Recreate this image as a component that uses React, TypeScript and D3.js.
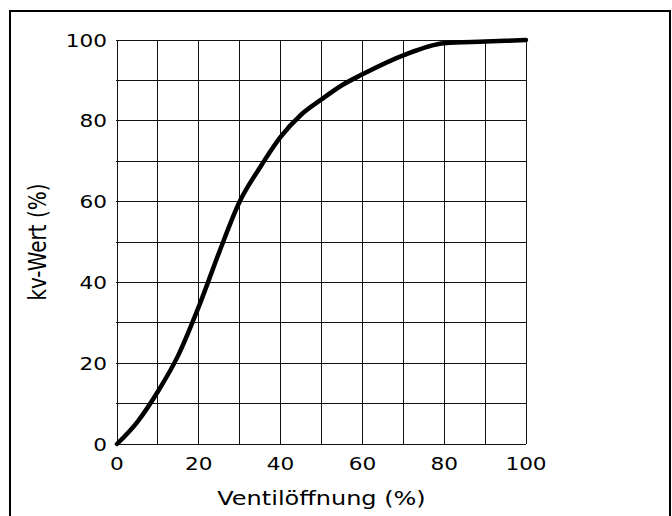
import React from 'react';
import * as d3 from 'd3';

// Valve characteristic: opening (%) vs kv value (%)
const opening = [0, 5, 10, 15, 20, 25, 30, 35, 40, 45, 50, 55, 60, 70, 80, 90, 100];
const kvValue = [0, 5.5, 13, 22, 34, 47.5, 60, 68.5, 76, 81.5, 85.3, 88.8, 91.5, 96.2, 99.2, 99.6, 100];

const gridTicks = [0, 10, 20, 30, 40, 50, 60, 70, 80, 90, 100];
const labelTicks = [0, 20, 40, 60, 80, 100];

const xTitle = 'Ventilöffnung (%)';
const yTitle = 'kv-Wert (%)';

const W = 672;
const H = 516;
const FONT = '"DejaVu Sans", Verdana, sans-serif';
const STRETCH = 1.2; // reference glyphs are wider than DejaVu

export default function App() {
  const x = d3.scaleLinear().domain([0, 100]).range([117, 526]);
  const y = d3.scaleLinear().domain([0, 100]).range([444, 40]);

  const pts = opening.map((o, i) => [o, kvValue[i]] as [number, number]);
  const line = d3.line<[number, number]>()
    .x(d => x(d[0]))
    .y(d => y(d[1]))
    .curve(d3.curveMonotoneX);

  return (
    <svg width={W} height={H} style={{ position: 'absolute', left: 0, top: 0, background: '#fff' }}
      fontFamily={FONT}>
      <rect x={10} y={11} width={660} height={530} fill="#fff" stroke="#000" strokeWidth={2} />

      {/* grid */}
      <g stroke="#111" strokeWidth={1} shapeRendering="crispEdges">
        {gridTicks.map(t => (
          <line key={'v' + t} x1={x(t)} x2={x(t)} y1={y(0)} y2={y(100)} />
        ))}
        {gridTicks.map(t => (
          <line key={'h' + t} x1={x(0) - 1} x2={x(100)} y1={y(t)} y2={y(t)} />
        ))}
      </g>

      {/* curve */}
      <path d={line(pts) || ''} fill="none" stroke="#000" strokeWidth={4.5}
        strokeLinecap="round" strokeLinejoin="round" />

      {/* y tick labels */}
      {labelTicks.map(t => (
        <text key={'yl' + t} transform={`translate(${x(0) - 10},${y(t) + 6.5}) scale(${STRETCH},1)`}
          textAnchor="end" fontSize={18} fill="#000">{t}</text>
      ))}

      {/* x tick labels */}
      {labelTicks.map(t => (
        <text key={'xl' + t} transform={`translate(${x(t)},${470}) scale(${STRETCH},1)`}
          textAnchor="middle" fontSize={18} fill="#000">{t}</text>
      ))}

      <text transform={`translate(${(x(0) + x(100)) / 2},${505}) scale(${STRETCH},1)`}
        textAnchor="middle" fontSize={20} fill="#000">{xTitle}</text>

      <text transform={`translate(${46},${(y(0) + y(100)) / 2}) scale(${STRETCH},1) rotate(-90)`}
        textAnchor="middle" fontSize={20} fill="#000">{yTitle}</text>
    </svg>
  );
}
